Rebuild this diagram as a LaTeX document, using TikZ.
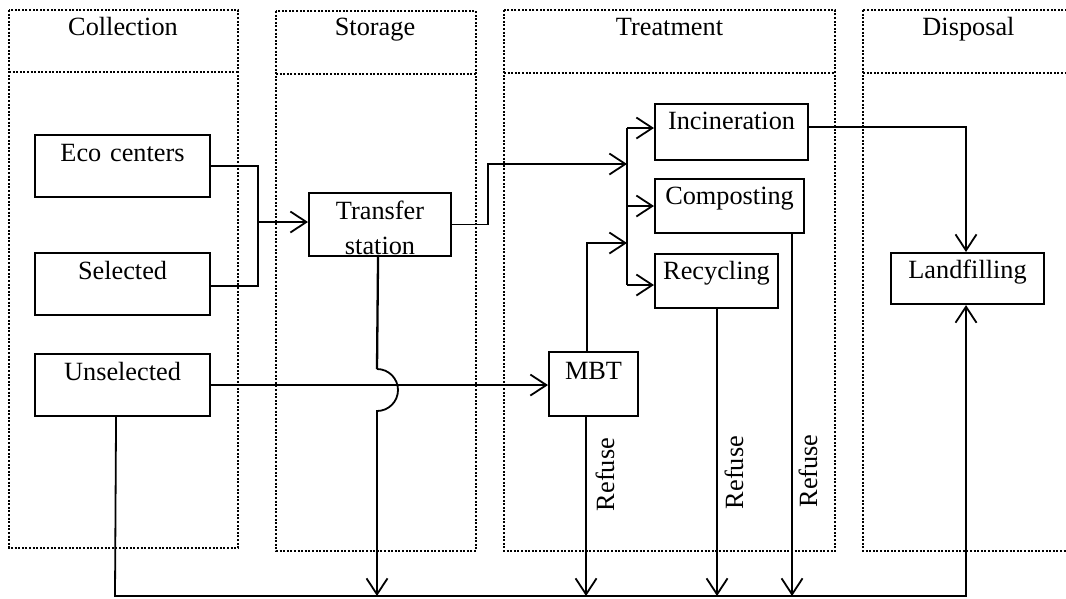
\documentclass[tikz,border=0pt]{standalone}
\usepackage{fontspec}
\setmainfont{Liberation Serif}
\usetikzlibrary{arrows.meta}

\begin{document}
\begin{tikzpicture}[x=1pt,y=-1pt,
  font=\fontsize{26.3}{35}\selectfont,
  lane/.style={line width=2.2pt, dash pattern=on 2pt off 1.6pt},
  box/.style={draw, line width=2.1pt, anchor=north west, inner xsep=0pt,
    inner ysep=0pt, text height=26pt, align=center},
  conn/.style={line width=1.8pt},
  arr/.style={-{Straight Barb[length=16pt,width=21pt]}},
  head/.style={anchor=base},
  refuse/.style={anchor=base, rotate=90, inner sep=0pt}
]
\fill[white] (0,0) rectangle (1066,598);
\clip (0,0) rectangle (1066,598);

% swim lanes
\draw[lane] (9,10) rectangle (238,548);    \draw[lane] (9,72) -- (238,72);
\draw[lane] (276,11) rectangle (476,551);  \draw[lane] (276,74) -- (476,74);
\draw[lane] (504,10) rectangle (835,551);  \draw[lane] (504,73) -- (835,73);
\draw[lane] (863,10) rectangle (1090,551); \draw[lane] (863,73) -- (1090,73);

\node[head] (hcol) at (123,35) {Collection};
\node[head] (hsto) at (375,35) {Storage};
\node[head] (htre) at (669.5,35) {Treatment};
\node[head] (hdis) at (968.5,35) {Disposal};

% process boxes
\node[box, text width=175pt, text depth=36pt] (eco) at (34,134) {Eco centers};
\node[box, text width=175pt, text depth=36pt] (sel) at (34,252) {Selected};
\node[box, text width=175pt, text depth=36pt] (uns) at (34,353) {Unselected};
\node[box, text width=142pt, text depth=37pt] (ts) at (308,192) {Transfer\\station};
\node[box, text width=153pt, text height=25pt, text depth=31pt] (inc) at (654,103) {Incineration};
\node[box, text width=149pt, text height=25pt, text depth=29pt] (comp) at (654,178) {Composting};
\node[box, text width=123pt, text height=25pt, text depth=29pt] (rec) at (654,253) {Recycling};
\node[box, text width=89pt, text height=27pt, text depth=37pt] (mbt) at (548,351) {MBT};
\node[box, text width=153pt, text height=25pt, text depth=26pt] (land) at (890,252) {Landfilling};

% helper points
\coordinate (jn) at (258,222);
\coordinate (tk) at (488,164);
\coordinate (tb) at (627,164);
\coordinate (bt) at (627,128);
\coordinate (bc) at (627,206);
\coordinate (bb) at (627,285);
\coordinate (mb) at (627,243);
\coordinate (busL) at (115,596);
\coordinate (busR) at (966,596);
\coordinate (lt) at (966,252);
\coordinate (hopT) at (377,369);
\coordinate (hopB) at (377,411);

% collection to transfer station
\draw[conn] (eco.east) -| (jn);
\draw[conn] ([yshift=-2pt]sel.east) -| (jn);
\draw[conn,arr] (jn) -- (jn -| ts.west);

% transfer station to treatment
\draw[conn,arr] (ts.east) -| (tk) -- (tb);
\draw[conn] (bt) -- (bb);
\draw[conn,arr] (bt) -- (bt -| inc.west);
\draw[conn,arr] (bc) -- (bc -| comp.west);
\draw[conn,arr] (bb) -- (bb -| rec.west);
\draw[conn,arr] ([xshift=-6.5pt]mbt.north) |- (mb);

% unselected waste to MBT
\draw[conn,arr] (uns.east) -- (uns.east -| mbt.west);

% transfer station refuse, hopping over the MBT line
\draw[line width=2.3pt] ([xshift=-2pt]ts.south) -- (hopT);
\draw[conn,arr] (hopT) .. controls (388.6,369) and (398,378.4) .. (398,390)
  .. controls (398,401.6) and (388.6,411) .. (hopB) -- (hopB |- busL);

% refuse flows to the collector line
\draw[conn,arr] ([xshift=-7.5pt]mbt.south) -- ([xshift=-7.5pt]mbt.south |- busL);
\draw[conn,arr] ([xshift=0.5pt]rec.south) -- ([xshift=0.5pt]rec.south |- busL);
\draw[conn,arr] ([xshift=62.5pt]comp.south) -- ([xshift=62.5pt]comp.south |- busL);
\draw[conn,arr] ([xshift=-6.5pt]uns.south) -- (busL) -- (busR) -- (land.south -| busR);

% incineration residue to landfill
\draw[conn,arr] ([yshift=5pt]inc.east) -| (lt);

\node[refuse] (r1) at (614,474.5) {Refuse};
\node[refuse] (r2) at (743,472.5) {Refuse};
\node[refuse] (r3) at (817,471) {Refuse};
\end{tikzpicture}
\end{document}
